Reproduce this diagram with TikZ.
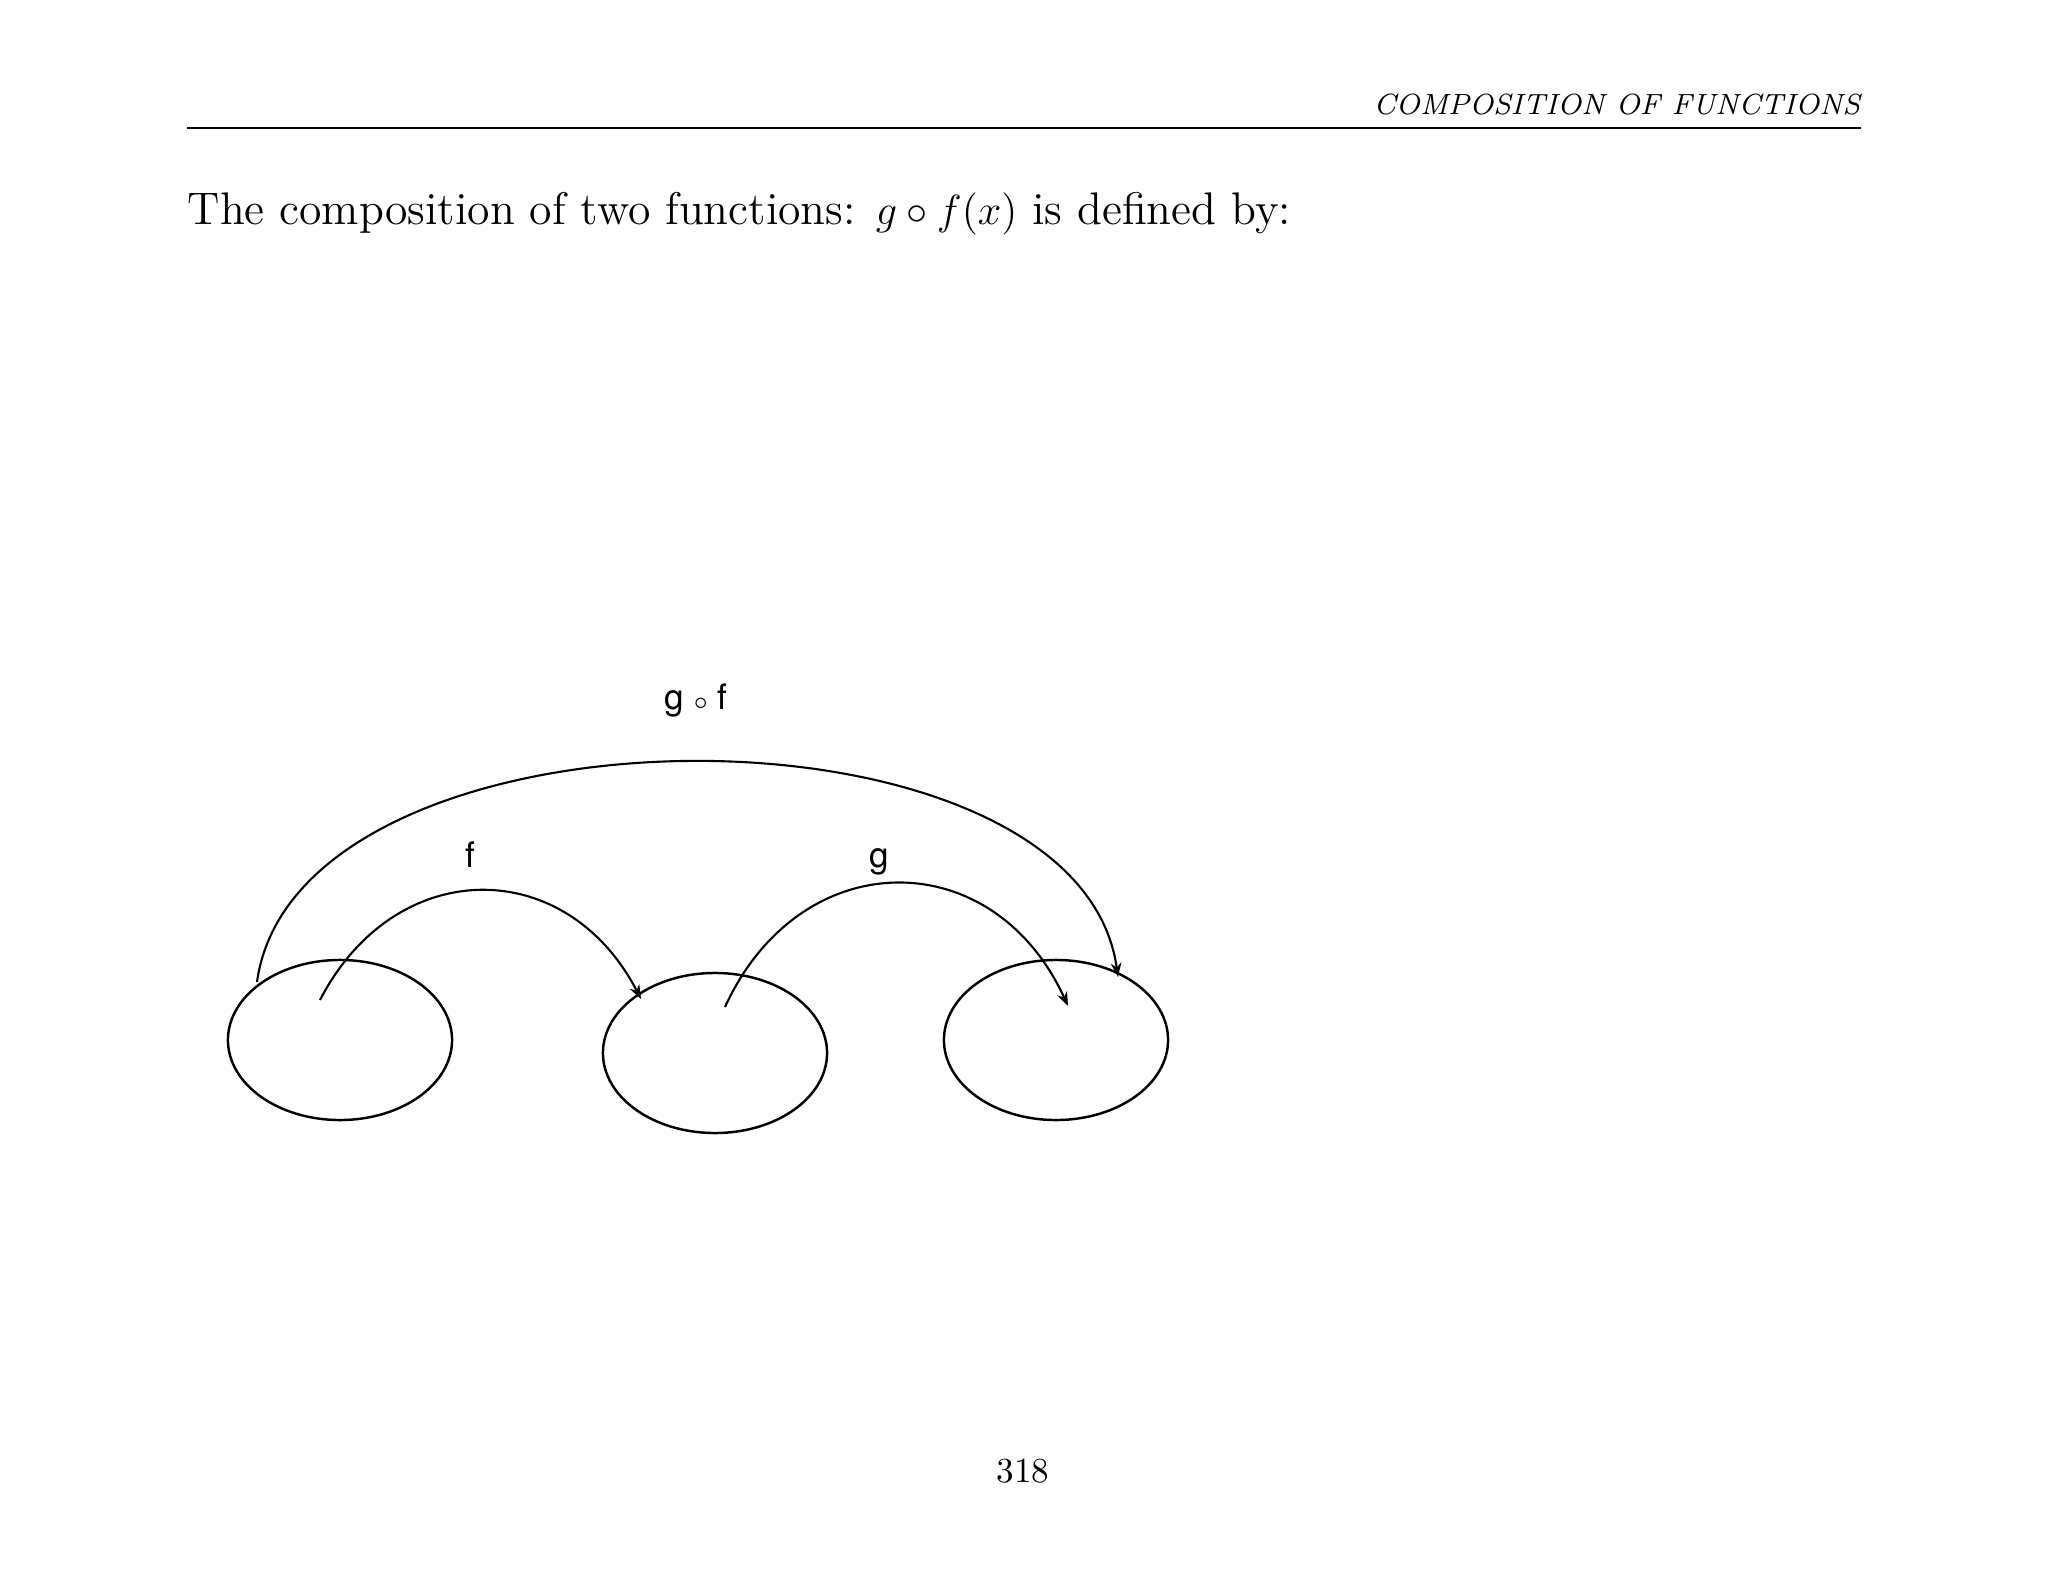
\documentclass[tikz,border=0pt]{standalone}
\usepackage{fontspec}
\newfontfamily\labelfont{TeX Gyre Heros}
\usetikzlibrary{shapes.geometric,arrows.meta,calc}
\begin{document}
\begin{tikzpicture}[x=0.01cm,y=-0.01cm,
  setbox/.style={draw,ellipse,line width=0.7pt,minimum width=2.24cm,minimum height=1.6cm,inner sep=0pt},
  maparrow/.style={line width=0.6pt,-{Stealth[length=4pt,width=3pt]}},
  maplabel/.style={font=\labelfont\fontsize{10}{12}\selectfont,inner sep=0pt,anchor=base},
  bodytext/.style={inner sep=0pt,font=\fontsize{13}{15}\selectfont}]
\useasboundingbox (0,0) rectangle (2048,1582);
% header
\node[bodytext,font=\fontsize{8.3}{10}\selectfont\itshape,anchor=base east] (head) at (1861,115) {COMPOSITION OF FUNCTIONS};
\draw[line width=0.3pt] (187,128) -- (1861,128);
\node[bodytext,anchor=base west] (intro) at (187,225) {The composition of two functions: $g\circ f(x)$ is defined by:};
\node[bodytext,font=\fontsize{10}{12}\selectfont,anchor=base] (page) at (1023,1482) {318};
% sets
\node[setbox] (A) at (340,1040) {};
\node[setbox] (B) at (715,1053) {};
\node[setbox] (C) at (1056,1040) {};
% arrow end points
\coordinate (fs) at ($(A.center)+(-20,-40)$);
\coordinate (fe) at ($(B.center)+(-74,-54)$);
\coordinate (gs) at ($(B.center)+(10,-46)$);
\coordinate (ge) at ($(C.center)+(12,-34)$);
\coordinate (hs) at ($(A.center)+(-83,-58)$);
\coordinate (he) at ($(C.center)+(62,-63)$);
% arrows
\draw[maparrow] (fs) .. controls ($(fs)+(75,-145)$) and ($(fe)+(-75,-145)$) .. (fe);
\draw[maparrow] (gs) .. controls ($(gs)+(75,-164)$) and ($(ge)+(-75,-164)$) .. (ge);
\draw[maparrow] (hs) .. controls ($(hs)+(40,-290)$) and ($(he)+(-40,-290)$) .. (he);
% labels
\node[maplabel] (lf) at (470,867) {f};
\node[maplabel] (lg) at (879,867) {g};
\node[maplabel] (lh) at (696,709) {g {\fontsize{7}{8}\selectfont$\circ$} f};
\end{tikzpicture}
\end{document}
